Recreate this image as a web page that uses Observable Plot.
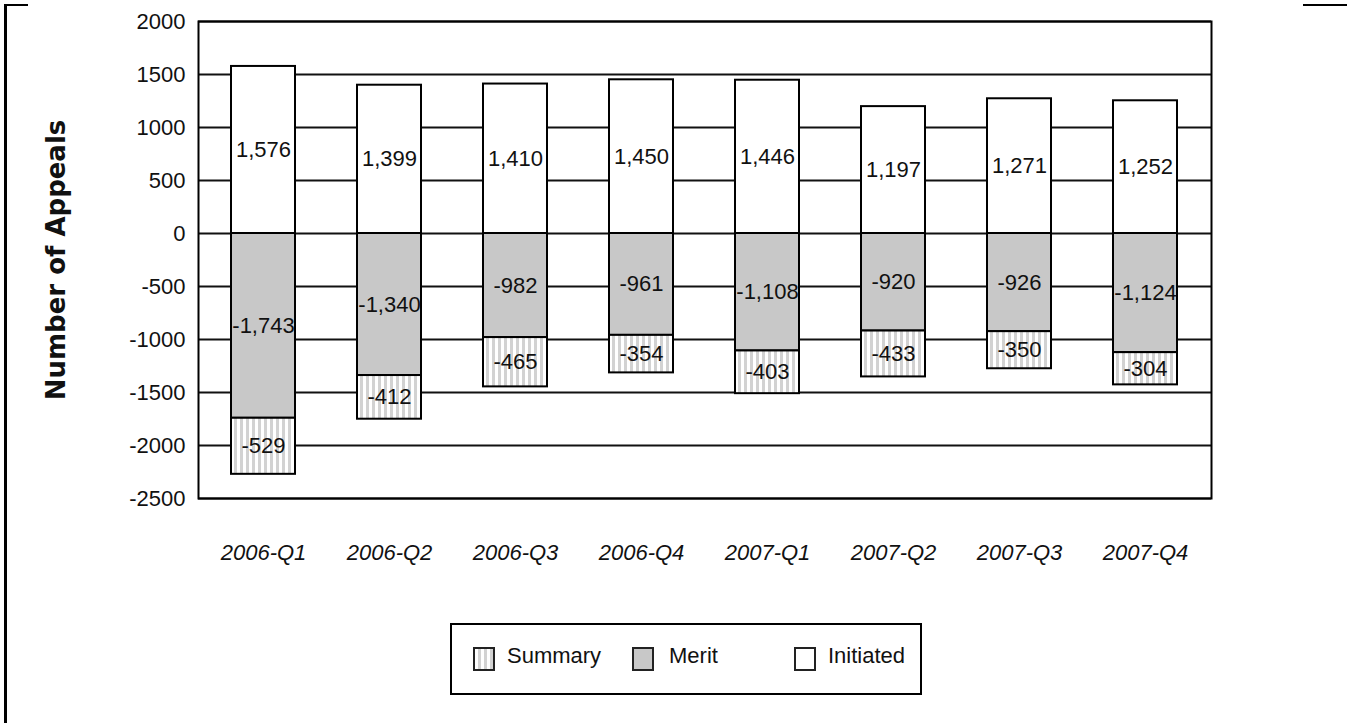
<!DOCTYPE html>
<html>
<head>
<meta charset="utf-8">
<script src="https://cdn.jsdelivr.net/npm/d3@7"></script>
<script src="https://cdn.jsdelivr.net/npm/@observablehq/plot@0.6"></script>
<style>
  body { margin: 0; background: #fff; font-family: "Liberation Sans", Arial, sans-serif; }
  #wrap { position: relative; width: 1347px; height: 723px; overflow: hidden; background: #fff; }
  #chart { position: absolute; left: 0; top: 0; }
  .deco { position: absolute; background: #000; }
  #legend { position: absolute; left: 450px; top: 623px; width: 468px; height: 68px; border: 2px solid #000; box-sizing: content-box; }
  .sw { position: absolute; top: 22px; width: 18px; height: 20px; border: 2px solid #222; }
  .lt { position: absolute; top: 18px; font-size: 22px; line-height: 26px; color: #111; }
  #chart g[aria-label="x-axis tick label"] text { font-style: italic; }
  #chart g[aria-label="y-axis label"] text { font-weight: bold; font-family: "DejaVu Sans", sans-serif; font-size: 26px; }
</style>
</head>
<body>
<div id="wrap">
  <div id="chart"></div>
  <div class="deco" style="left:4px;top:4px;width:3px;height:719px"></div>
  <div class="deco" style="left:4px;top:4px;width:24px;height:2px"></div>
  <div class="deco" style="left:1303px;top:4px;width:44px;height:2px"></div>
  <div id="legend"></div>
</div>
<script>
// ---- data ----
const quarters = ["2006-Q1", "2006-Q2", "2006-Q3", "2006-Q4", "2007-Q1", "2007-Q2", "2007-Q3", "2007-Q4"];
const initiated = [1576, 1399, 1410, 1450, 1446, 1197, 1271, 1252];
const merit = [-1743, -1340, -982, -961, -1108, -920, -926, -1124];
const summary = [-529, -412, -465, -354, -403, -433, -350, -304];
const seriesNames = ["Summary", "Merit", "Initiated"];
const stackOrder = ["Merit", "Summary", "Initiated"];
const yTicks = [-2500, -2000, -1500, -1000, -500, 0, 500, 1000, 1500, 2000];
const yLabel = "Number of Appeals";

const rows = [];
quarters.forEach((q, i) => {
  rows.push({quarter: q, series: "Initiated", value: initiated[i]});
  rows.push({quarter: q, series: "Merit", value: merit[i]});
  rows.push({quarter: q, series: "Summary", value: summary[i]});
});

const fmt = v => (v < 0 ? "-" : "") + d3.format(",")(Math.abs(v));

const chart = Plot.plot({
  width: 1347,
  height: 601,
  marginLeft: 198,
  marginRight: 136,
  marginTop: 21,
  marginBottom: 103,
  style: {fontFamily: "'Liberation Sans', Arial, sans-serif", fontSize: "22px", color: "#111", background: "transparent", overflow: "visible"},
  x: {domain: quarters, paddingInner: 0.49, paddingOuter: 0.26, label: null, tickSize: 0, tickPadding: 46},
  y: {domain: [-2500, 2000], ticks: yTicks, tickFormat: v => (v < 0 ? "-" : "") + Math.abs(v), label: yLabel, labelAnchor: "center", labelArrow: "none", labelOffset: 152, tickSize: 0, tickPadding: 13},
  color: {type: "ordinal", domain: seriesNames, range: ["url(#stripes)", "#c8c8c8", "#ffffff"]},
  marks: [
    Plot.gridY(yTicks, {stroke: "#111", strokeOpacity: 1, strokeWidth: 2}),
    Plot.barY(rows, Plot.stackY({x: "quarter", y: "value", z: "series", order: stackOrder, fill: "series", stroke: "#000", strokeWidth: 2})),
    Plot.text(rows, Plot.stackY({x: "quarter", y: "value", z: "series", order: stackOrder, text: d => fmt(d.value), fontSize: 22, fill: "#111"})),
    Plot.frame({stroke: "#000", strokeWidth: 2})
  ]
});

// stripe pattern definition
const ns = "http://www.w3.org/2000/svg";
const defs = document.createElementNS(ns, "defs");
defs.innerHTML = '<pattern id="stripes" patternUnits="userSpaceOnUse" width="6" height="6"><rect width="6" height="6" fill="#ffffff"/><rect x="0" width="3" height="6" fill="#d2d2d2"/></pattern>';
chart.insertBefore(defs, chart.firstChild);
document.getElementById("chart").appendChild(chart);

// legend
const legend = document.getElementById("legend");
const legendItems = [
  {name: "Summary", bg: "repeating-linear-gradient(90deg, #ffffff 0 3px, #d2d2d2 3px 6px)", sx: 21, tx: 55},
  {name: "Merit", bg: "#c8c8c8", sx: 180, tx: 217},
  {name: "Initiated", bg: "#ffffff", sx: 342, tx: 376}
];
legendItems.forEach(it => {
  const s = document.createElement("div");
  s.className = "sw"; s.style.left = it.sx + "px"; s.style.background = it.bg;
  legend.appendChild(s);
  const t = document.createElement("div");
  t.className = "lt"; t.style.left = it.tx + "px"; t.textContent = it.name;
  legend.appendChild(t);
});
</script>
</body>
</html>
